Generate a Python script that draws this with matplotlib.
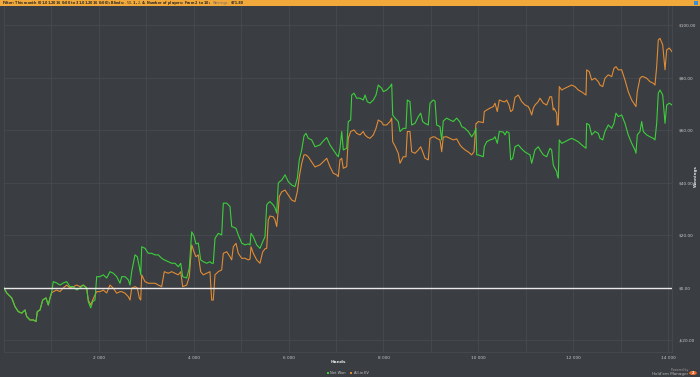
import matplotlib
matplotlib.use("Agg")
import matplotlib.pyplot as plt
from matplotlib.patches import Rectangle, Circle
import numpy as np

hands = [0, 57, 162, 232, 301, 373, 443, 479, 548, 618, 675, 702, 759, 816, 885, 934, 970,
         1006, 1039, 1111, 1180, 1250, 1322, 1391, 1461, 1533, 1602, 1672, 1743, 1777, 1828,
         1870, 1918, 1954, 2024, 2093, 2165, 2234, 2304, 2376, 2445, 2481, 2551, 2620, 2656,
         2692, 2761, 2810, 2852, 2882, 2903, 2972, 3042, 3114, 3183, 3253, 3324, 3379, 3463,
         3535, 3605, 3674, 3725, 3767, 3851, 3906, 3957, 4005, 4047, 4096, 4146, 4201, 4273,
         4342, 4378, 4412, 4448, 4517, 4589, 4623, 4695, 4764, 4800, 4834, 4891, 4939, 5011,
         5080, 5150, 5186, 5207, 5255, 5327, 5396, 5453, 5502, 5538, 5571, 5607, 5677, 5713,
         5749, 5782, 5803, 5854, 5924, 5993, 6065, 6134, 6183, 6225, 6276, 6324, 6366, 6415,
         6486, 6556, 6661, 6731, 6803, 6872, 6942, 7013, 7047, 7083, 7119, 7153, 7224, 7258,
         7308, 7330, 7378, 7435, 7504, 7574, 7610, 7658, 7715, 7785, 7842, 7890, 7962, 7996,
         8067, 8137, 8173, 8194, 8242, 8312, 8348, 8417, 8474, 8502, 8558, 8594, 8664, 8734,
         8784, 8826, 8875, 8944, 8980, 9050, 9086, 9121, 9191, 9227, 9260, 9332, 9402, 9471,
         9543, 9612, 9648, 9718, 9788, 9859, 9908, 9950, 9965, 9998, 10104, 10125, 10175,
         10245, 10315, 10351, 10399, 10441, 10526, 10561, 10597, 10646, 10681, 10724, 10772,
         10842, 10913, 10983, 11052, 11088, 11124, 11158, 11194, 11263, 11299, 11369, 11440,
         11510, 11545, 11579, 11594, 11651, 11663, 11685, 11706, 11756, 11826, 11895, 11967,
         12037, 12106, 12178, 12269, 12283, 12338, 12389, 12458, 12528, 12564, 12621, 12669,
         12739, 12811, 12859, 12901, 12950, 13021, 13091, 13160, 13232, 13301, 13322, 13350,
         13407, 13443, 13477, 13548, 13617, 13687, 13723, 13759, 13793, 13829, 13886, 13935,
         13970, 14025, 14082]

net_won = [0, -1.9, -3.8, -7.1, -9.0, -9.6, -8.4, -10.9, -12.2, -12.2, -12.8, -9.0, -8.4, -4.6,
           -3.8, -6.5, -3.8, -1.4, 2.4, 1.9, 1.1, 1.9, 2.4, 0.5, 0.5, -0.8, 0.0, 1.1, 0.0, -5.2,
           -7.6, -5.2, -4.6, 4.3, 4.3, 5.0, 3.8, 6.2, 5.6, 4.3, 1.8, 4.3, 4.3, 3.1, 1.1, 6.2,
           12.6, 11.9, 8.1, 5.0, 15.7, 15.1, 13.2, 13.2, 12.6, 12.6, 11.3, 10.7, 10.0, 9.4, 9.4,
           8.1, 9.4, 4.3, 3.8, 7.6, 21.4, 19.8, 16.8, 17.1, 10.7, 10.0, 9.4, 10.0, 9.4, 9.4,
           18.9, 20.8, 20.2, 32.3, 32.3, 31.0, 23.4, 23.2, 22.7, 20.2, 17.1, 16.4, 16.8, 16.4,
           20.8, 19.5, 16.4, 15.1, 17.6, 19.5, 31.6, 32.4, 32.9, 31.6, 30.5, 28.5, 39.9, 40.4,
           41.1, 43.1, 40.5, 39.2, 38.6, 41.8, 48.8, 52.6, 57.9, 58.9, 57.0, 56.4, 53.8, 54.5,
           56.0, 57.3, 54.5, 52.6, 50.7, 50.0, 53.2, 59.6, 52.6, 53.2, 63.4, 64.0, 73.5, 74.2,
           72.3, 72.3, 71.6, 73.5, 71.0, 70.4, 71.6, 73.5, 77.3, 76.1, 74.8, 75.4, 76.7, 77.7,
           65.9, 64.7, 63.4, 59.6, 60.8, 60.8, 71.6, 71.0, 62.1, 62.7, 65.3, 66.6, 63.4, 62.7,
           62.1, 70.4, 71.6, 71.2, 62.1, 61.5, 56.4, 63.6, 64.7, 64.0, 63.4, 64.7, 63.2, 61.5,
           60.8, 59.6, 57.6, 58.9, 60.8, 50.7, 50.7, 50.0, 53.8, 55.7, 56.4, 56.8, 57.6, 55.1,
           59.6, 59.4, 58.3, 59.6, 59.1, 48.8, 49.4, 53.8, 54.5, 53.0, 51.8, 51.1, 50.7, 47.5,
           50.0, 52.6, 53.8, 52.6, 50.7, 50.0, 53.2, 52.6, 46.9, 46.2, 44.3, 42.9, 41.8, 56.4,
           55.1, 55.7, 56.4, 57.0, 56.4, 55.7, 54.5, 53.2, 62.7, 62.1, 58.3, 59.6, 58.9, 57.0,
           56.4, 59.6, 62.1, 60.8, 62.7, 66.6, 65.3, 65.9, 62.7, 58.3, 55.1, 52.6, 51.3, 58.3,
           59.6, 63.4, 59.6, 58.3, 57.6, 57.0, 56.4, 62.7, 74.2, 75.4, 73.5, 62.7, 69.7, 70.4,
           69.7]

allin_ev = [0, -1.9, -3.8, -7.1, -9.0, -9.6, -8.4, -10.9, -12.2, -12.2, -12.8, -9.0, -8.4, -4.6,
            -3.8, -6.5, -3.8, -1.9, -1.4, -0.8, -1.4, 0.0, 1.1, 0.0, 0.5, 1.1, 0.5, 1.1, 0.0,
            -4.6, -6.5, -4.6, -2.7, -1.4, -1.4, -0.8, -1.9, 1.1, -0.1, -2.0, -1.4, -1.4, -2.0,
            -3.3, -4.6, -0.1, 0.5, 0.0, -3.8, -4.6, 5.0, 2.4, 1.8, 1.8, 1.8, 1.1, 0.5, 6.2, 5.6,
            6.2, 5.6, 5.0, 6.2, 0.5, 1.1, 4.3, 16.4, 13.8, 11.9, 12.6, 6.2, 5.0, 5.6, 6.2, -4.6,
            -4.6, 5.0, 6.2, 6.9, 13.2, 13.8, 11.9, 10.7, 15.7, 17.0, 13.2, 11.3, 11.3, 10.7,
            11.0, 15.7, 13.2, 10.7, 9.4, 13.7, 14.9, 15.1, 25.9, 27.4, 27.1, 25.9, 23.4, 29.7,
            34.8, 36.6, 37.3, 35.4, 33.5, 32.9, 36.7, 42.4, 47.5, 50.7, 50.7, 49.9, 48.0, 46.1,
            46.9, 48.1, 49.4, 46.2, 43.7, 43.1, 42.4, 48.8, 49.4, 45.6, 46.2, 57.0, 59.6, 59.8,
            60.2, 58.9, 58.3, 59.6, 58.3, 57.5, 57.0, 58.3, 60.8, 64.0, 63.2, 62.1, 62.1, 63.4,
            64.7, 55.7, 54.1, 51.3, 47.5, 50.0, 50.0, 59.6, 59.6, 51.9, 51.3, 52.6, 53.8, 51.9,
            49.4, 48.8, 57.0, 57.6, 57.5, 57.0, 56.4, 51.9, 57.5, 57.6, 57.0, 56.4, 56.8, 54.5,
            53.7, 52.6, 51.8, 50.7, 51.9, 62.7, 62.7, 63.4, 63.0, 67.2, 67.8, 68.5, 69.1, 70.4,
            67.2, 71.6, 71.0, 70.9, 71.6, 69.7, 67.2, 67.8, 72.6, 73.5, 71.0, 69.7, 69.1, 67.8,
            65.9, 68.5, 69.7, 71.0, 72.3, 70.4, 69.7, 72.9, 72.8, 67.8, 68.5, 66.6, 62.1, 62.1,
            76.7, 75.4, 76.1, 76.7, 77.3, 76.7, 75.4, 74.7, 73.5, 83.1, 82.4, 79.2, 79.9, 78.6,
            77.3, 76.7, 79.9, 81.2, 80.5, 83.7, 84.3, 83.1, 83.1, 79.2, 74.8, 71.6, 69.7, 69.1,
            74.8, 79.9, 80.5, 80.5, 79.9, 78.6, 78.0, 77.3, 84.3, 94.5, 95.1, 92.6, 83.1, 90.7,
            91.4, 90.0]

x_ticks = [2000, 4000, 6000, 8000, 10000, 12000, 14000]
x_tick_labels = ["2 000", "4 000", "6 000", "8 000", "10 000", "12 000", "14 000"]
y_ticks = [-20, 0, 20, 40, 60, 80, 100]
y_tick_labels = ["-$20.00", "$0.00", "$20.00", "$40.00", "$60.00", "$80.00", "$100.00"]
series_names = ["Net Won", "All-in EV"]

BG = "#3a3d41"
GRID = "#474b50"
GREEN = "#3ccf3c"
ORANGE = "#e08c36"
TXT = "#c8c8c8"
W, H = 700, 377

fig = plt.figure(figsize=(7.0, 3.77), dpi=100, facecolor=BG)
ax = fig.add_axes([4/W, 25/H, 668/W, 347/H], facecolor=BG)

ax.set_xlim(0, 14082)
ax.set_ylim(-24.4, 107.8)

for v in range(1000, 14001, 1000):
    ax.axvline(v, color=GRID, lw=0.6, zorder=0)
for v in y_ticks:
    ax.axhline(v, color=GRID, lw=0.6, zorder=0)

ax.plot(hands, allin_ev, color=ORANGE, lw=0.8, zorder=3)
ax.plot(hands, net_won, color=GREEN, lw=0.8, zorder=4)
ax.axhline(0, color="#e8e8e8", lw=1.0, zorder=5)

for s in ax.spines.values():
    s.set_color(GRID)
    s.set_linewidth(0.6)
ax.spines["top"].set_visible(False)

ax.yaxis.tick_right()
ax.set_xticks(x_ticks)
ax.set_xticklabels(x_tick_labels)
ax.set_yticks(y_ticks)
ax.set_yticklabels(y_tick_labels)
ax.tick_params(axis="both", length=0, labelsize=3.1, colors=TXT, pad=3)
ax.tick_params(axis="y", pad=5)

renderer = fig.canvas.get_renderer()


def text_run(x_px, y_px, pieces, fontsize, gap=1.5):
    """Place consecutive text pieces left to right starting at pixel x."""
    x = x_px
    for s, color, weight in pieces:
        t = fig.text(x / W, y_px / H, s, fontsize=fontsize, color=color, weight=weight,
                     va="center", ha="left", zorder=11)
        bb = t.get_window_extent(renderer=renderer)
        x = bb.x1 + gap
    return x


# top filter bar
fig.patches.append(Rectangle((0, 371.5/H), 1, 5.5/H, transform=fig.transFigure,
                             facecolor="#f2a93b", edgecolor="none", zorder=10))
text_run(2, 374.0, [
    ("Filter: This month (01.01.2016 0:00 to 31.01.2016 0:00); Blinds: $.50, $1, $2, $4; "
     "Number of players: From 2 to 10;", "#2a2a2a", "bold"),
    ("Winnings:", "#6a6a6a", "normal"),
    ("$71.80", "#2a2a2a", "bold"),
], fontsize=2.4)
fig.patches.append(Rectangle((694/W, 372.5/H), 4/W, 3.5/H, transform=fig.transFigure,
                             facecolor="#3b8fd6", edgecolor="none", zorder=11))

# axis titles
fig.text(338/W, 1 - 362/H, "Hands", fontsize=3.2, color="#e0e0e0", weight="bold",
         ha="center", va="center")
fig.text(696/W, 1 - 176/H, "Winnings", fontsize=3.0, color="#e0e0e0", weight="bold",
         rotation=90, ha="center", va="center")

# legend
ly = H - 373
fig.patches.append(Rectangle((327/W, (ly - 1.1)/H), 2.2/W, 2.2/H,
                             transform=fig.transFigure, facecolor=GREEN, edgecolor="none"))
xe = text_run(330.5, ly, [(series_names[0], TXT, "normal")], fontsize=2.6)
xs = xe + 2.5
fig.patches.append(Rectangle((xs/W, (ly - 1.1)/H), 2.2/W, 2.2/H,
                             transform=fig.transFigure, facecolor=ORANGE, edgecolor="none"))
text_run(xs + 3.5, ly, [(series_names[1], TXT, "normal")], fontsize=2.6)

# branding
fig.text(688/W, 1 - 369.5/H, "Powered by", fontsize=2.2, color="#9a9a9a", ha="right",
         va="center")
fig.text(688/W, 1 - 373.5/H, "Hold'em Manager", fontsize=3.0, color="#b5b5b5",
         ha="right", va="center")
fig.patches.append(Circle((693/W, 1 - 373/H), 0.0055, transform=fig.transFigure,
                          facecolor="#e5692c", edgecolor="none"))
fig.text(693/W, 1 - 373/H, "2", fontsize=2.6, color="white", weight="bold",
         ha="center", va="center")

fig.savefig("out.png", dpi=100, facecolor=BG)
